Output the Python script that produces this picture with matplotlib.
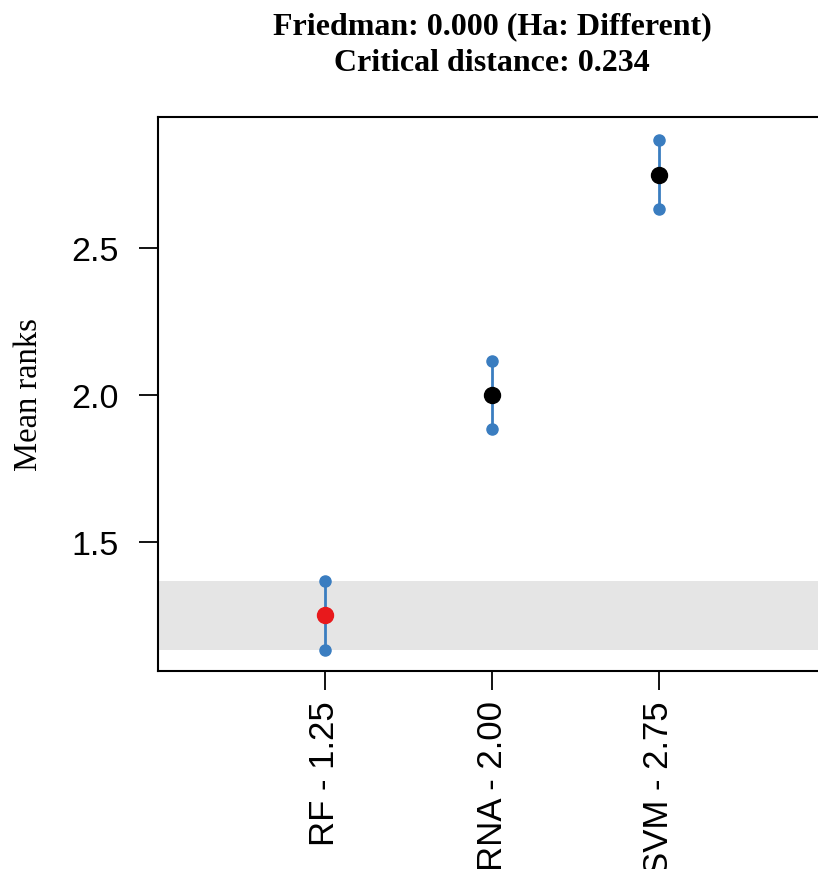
import numpy as np
import matplotlib
matplotlib.use("Agg")
import matplotlib.pyplot as plt

# mean ranks from the Friedman / Nemenyi test
models = ["RF", "RNA", "SVM"]
mean_ranks = [1.25, 2.00, 2.75]
critical_distance = 0.234
friedman_p = 0.000

blue = "#3a7dc0"
band_gray = "#e5e5e5"

W, H, DPI = 818, 870, 100
fig = plt.figure(figsize=(W / DPI, H / DPI), dpi=DPI)

# axes box runs a little past the right edge, like the cropped original
left, right, top, bottom = 158, 826, 118, 672
ax = fig.add_axes([left / W, 1 - bottom / H, (right - left) / W, (bottom - top) / H])

x = np.arange(1, len(models) + 1)
ranks = np.array(mean_ranks)
half = critical_distance / 2
best = np.argmin(ranks)

# region of models not different from the best one
ax.axhspan(ranks[best] - half, ranks[best] + half, color=band_gray, lw=0, zorder=0)

for i in range(len(models)):
    ax.plot([x[i], x[i]], [ranks[i] - half, ranks[i] + half], color=blue, lw=2, zorder=2,
            marker="o", ms=8, mec=blue, mfc=blue)
    c = "#e8191c" if i == best else "black"
    ax.plot(x[i], ranks[i], "o", color=c, ms=11.5, zorder=3)

ax.set_xlim(0, 4)
ax.set_ylim(1.0612, 2.9456)
ax.set_yticks([1.5, 2.0, 2.5])
ax.set_xticks(x)
ax.set_xticklabels([f"{m} - {r:.2f}" for m, r in zip(models, mean_ranks)], rotation=90,
                   family="Liberation Sans", fontsize=25)
for lab in ax.get_yticklabels():
    lab.set_family("Liberation Sans")
    lab.set_fontsize(24.5)
ax.tick_params(axis="y", length=14, width=1.3, pad=14)
ax.tick_params(axis="x", length=14, width=1.3, pad=7)
for s in ax.spines.values():
    s.set_linewidth(1.5)

ax.set_ylabel("Mean ranks", family="Liberation Serif", fontsize=23.5, labelpad=20)
ax.set_title(f"Friedman: {friedman_p:.3f} (Ha: Different)\nCritical distance: {critical_distance:.3f}",
             family="Liberation Serif", fontweight="bold", fontsize=23, pad=34, linespacing=1.35)

fig.savefig("out.png", dpi=DPI)
